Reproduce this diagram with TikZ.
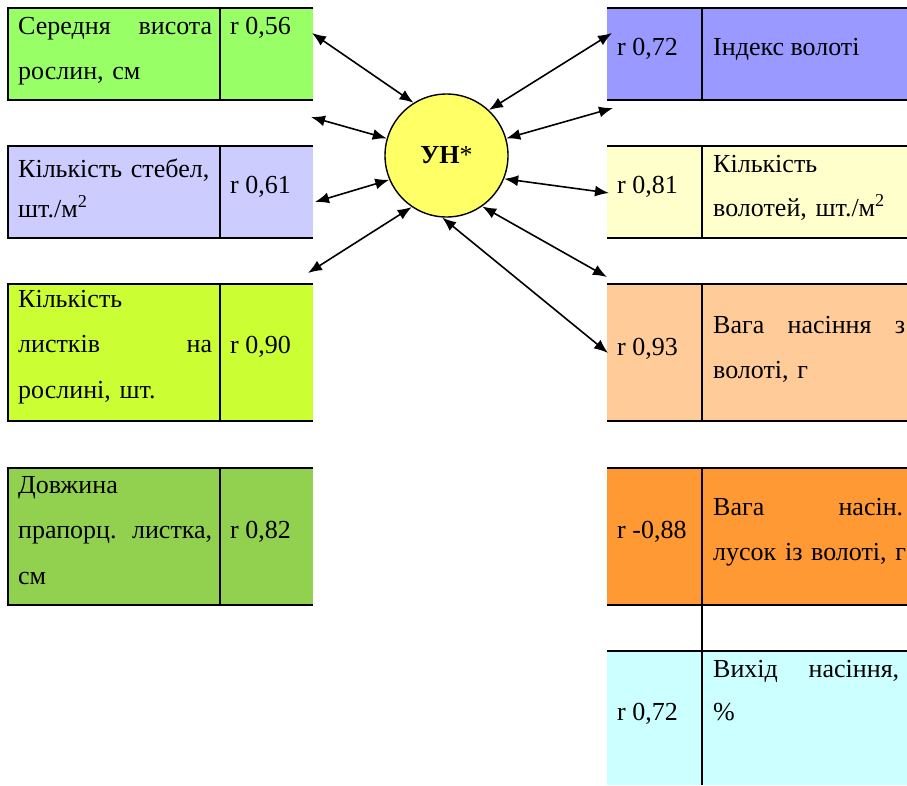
\documentclass[tikz,border=0pt]{standalone}
\usepackage{fontspec}
\setmainfont{Liberation Serif}
\frenchspacing
\usetikzlibrary{arrows.meta,positioning}

\definecolor{lgreen}{HTML}{99FF66}
\definecolor{lblue}{HTML}{CCCCFF}
\definecolor{lime}{HTML}{CCFF33}
\definecolor{mgreen}{HTML}{92D050}
\definecolor{violet}{HTML}{9999FF}
\definecolor{cream}{HTML}{FFFFCC}
\definecolor{peach}{HTML}{FFCC99}
\definecolor{orng}{HTML}{FF9933}
\definecolor{lcyan}{HTML}{CCFFFF}
\definecolor{sun}{HTML}{FFFF66}

\tikzstyle{cell}=[rectangle,inner sep=0pt,outer sep=0pt,draw=none]
\tikzstyle{texto}=[inner sep=0pt,anchor=base west,font=\fontsize{26}{45.5}\selectfont\frenchspacing]
\tikzstyle{rule}=[line width=1.2pt]
\tikzstyle{link}=[{Latex[length=14pt,width=11pt]}-{Latex[length=14pt,width=11pt]},line width=1.6pt]

\begin{document}
\begin{tikzpicture}[x=1pt,y=-1pt]
  \useasboundingbox (0,0) rectangle (907,785);

  % left column
  \node [cell,anchor=north west,fill=lgreen,minimum width=212pt,minimum height=92pt] (l1t) at (8,8) {};
  \node [cell,fill=lgreen,minimum width=93pt,minimum height=92pt,right=0pt of l1t] (l1r) {};
  \node [cell,anchor=north west,fill=lblue,minimum width=212pt,minimum height=92pt] (l2t) at (8,146) {};
  \node [cell,fill=lblue,minimum width=93pt,minimum height=92pt,right=0pt of l2t] (l2r) {};
  \node [cell,anchor=north west,fill=lime,minimum width=212pt,minimum height=137pt] (l3t) at (8,284) {};
  \node [cell,fill=lime,minimum width=93pt,minimum height=137pt,right=0pt of l3t] (l3r) {};
  \node [cell,anchor=north west,fill=mgreen,minimum width=212pt,minimum height=137pt] (l4t) at (8,468) {};
  \node [cell,fill=mgreen,minimum width=93pt,minimum height=137pt,right=0pt of l4t] (l4r) {};

  \foreach \b in {l1,l2,l3,l4} {
    \draw [rule] (\b r.north east) -- (\b t.north west) -- (\b t.south west) -- (\b r.south east);
    \draw [rule] (\b t.north east) -- (\b t.south east);
  }

  % right column
  \node [cell,anchor=north west,fill=violet,minimum width=95pt,minimum height=92pt] (r1r) at (607,8) {};
  \node [cell,fill=violet,minimum width=205pt,minimum height=92pt,right=0pt of r1r] (r1t) {};
  \node [cell,anchor=north west,fill=cream,minimum width=95pt,minimum height=92pt] (r2r) at (607,146) {};
  \node [cell,fill=cream,minimum width=205pt,minimum height=92pt,right=0pt of r2r] (r2t) {};
  \node [cell,anchor=north west,fill=peach,minimum width=95pt,minimum height=137pt] (r3r) at (607,284) {};
  \node [cell,fill=peach,minimum width=205pt,minimum height=137pt,right=0pt of r3r] (r3t) {};
  \node [cell,anchor=north west,fill=orng,minimum width=95pt,minimum height=137pt] (r4r) at (607,468) {};
  \node [cell,fill=orng,minimum width=205pt,minimum height=137pt,right=0pt of r4r] (r4t) {};
  \node [cell,anchor=north west,minimum width=95pt,minimum height=46pt] (r5r) at (607,605) {};
  \node [cell,minimum width=205pt,minimum height=46pt,right=0pt of r5r] (r5t) {};
  \node [cell,anchor=north west,fill=lcyan,minimum width=95pt,minimum height=134pt] (r6r) at (607,651) {};
  \node [cell,fill=lcyan,minimum width=205pt,minimum height=134pt,right=0pt of r6r] (r6t) {};

  \foreach \b in {r1,r2,r3,r4,r5} {
    \draw [rule] (\b r.north west) -- (\b t.north east);
    \draw [rule] (\b r.south west) -- (\b t.south east);
  }
  \foreach \b in {r1,r2,r3,r4,r5,r6}
    \draw [rule] (\b r.north east) -- (\b r.south east);

  % texts
  \node [texto,text width=194pt] at (18,34) {Середня\hfill висота\\рослин, см};
  \node [texto] at (230,34) {r 0,56};
  \node [texto,text width=194pt,font=\fontsize{26}{40}\selectfont\frenchspacing] at (18,177) {Кількість стебел,\\шт./м\textsuperscript{2}};
  \node [texto] at (230,193) {r 0,61};
  \node [texto,text width=194pt] at (18,307) {Кількість\\листків\hfill на\\рослині, шт.};
  \node [texto] at (230,353) {r 0,90};
  \node [texto,text width=194pt] at (18,493) {Довжина\\прапорц.\hfill листка,\\см};
  \node [texto] at (230,538) {r 0,82};

  \node [texto] at (617,55) {r 0,72};
  \node [texto] at (713,55) {Індекс волоті};
  \node [texto] at (617,193) {r 0,81};
  \node [texto,text width=194pt,font=\fontsize{26}{44}\selectfont\frenchspacing] at (713,172) {Кількість\\волотей, шт./м\textsuperscript{2}};
  \node [texto] at (617,355) {r 0,93};
  \node [texto,text width=192pt] at (713,333) {Вага\hfill насіння\hfill з\\волоті, г};
  \node [texto] at (617,538) {r -0,88};
  \node [texto,text width=190pt] at (713,515) {Вага\hfill насін.\\\mbox{лусок із волоті, г}};
  \node [texto] at (617,720) {r 0,72};
  \node [texto,text width=186pt,font=\fontsize{26}{43}\selectfont\frenchspacing] at (713,677) {Вихід\hfill насіння,\\\%};

  % centre
  \node [circle,draw,fill=sun,line width=1.4pt,minimum size=123pt,inner sep=0pt,
         font=\fontsize{26}{30}\selectfont] (un) at (446.5,155.5) {\textbf{УН}*};

  % links
  \coordinate (e1) at (312,33);
  \coordinate (e2) at (311,117);
  \coordinate (e3) at (315,202);
  \coordinate (e4) at (308,273);
  \coordinate (e5) at (612,33);
  \coordinate (e6) at (613,108);
  \coordinate (e7) at (609,193);
  \coordinate (e8) at (607,277);
  \coordinate (e9) at (608,353);

  \draw [link] (e1) -- (un.122);
  \draw [link] (e2) -- (un.164);
  \draw [link] (e3) -- (un.203);
  \draw [link] (e4) -- (un.236);
  \draw [link] (e5) -- (un.47);
  \draw [link] (e6) -- (un.16);
  \draw [link] (e7) -- (un.338);
  \draw [link] (e8) -- (un.305);
  \draw [link] (e9) -- (un.266);
\end{tikzpicture}
\end{document}
